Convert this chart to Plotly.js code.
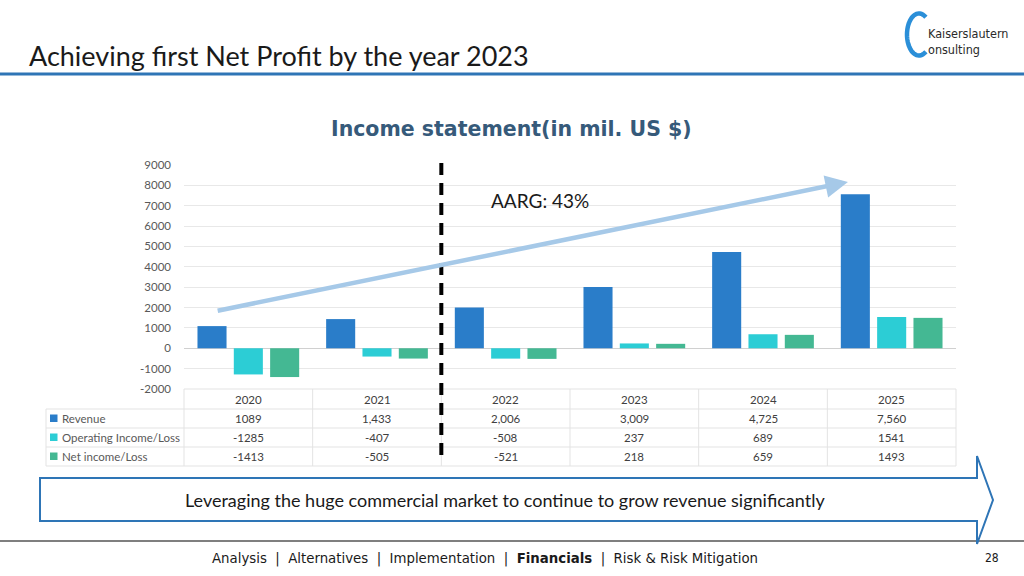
<!DOCTYPE html>
<html>
<head>
<meta charset="utf-8">
<script src="https://cdn.plot.ly/plotly-3.0.1.min.js"></script>
<style>html,body{margin:0;padding:0;background:#fff;}#chart{width:1024px;height:576px;}</style>
</head>
<body>
<div id="chart"></div>
<script>
// ---- data ----
const years = ['2020', '2021', '2022', '2023', '2024', '2025'];
const revenue = [1089, 1433, 2006, 3009, 4725, 7560];
const operatingIncome = [-1285, -407, -508, 237, 689, 1541];
const netIncome = [-1413, -505, -521, 218, 659, 1493];
const revenueLabels = ['1089', '1,433', '2,006', '3,009', '4,725', '7,560'];
const seriesNames = ['Revenue', 'Operating Income/Loss', 'Net income/Loss'];
const yTicks = [-2000, -1000, 0, 1000, 2000, 3000, 4000, 5000, 6000, 7000, 8000, 9000];

// ---- styling ----
const colors = ['#2a7dc9', '#2ccdd5', '#44b893'];
const W = 1024, H = 576;
const px = v => v / W;
const py = v => 1 - v / H;
const plotL = 184, plotR = 956, plotT = 165, plotB = 389;
const rowY = [389, 409, 428, 447, 466];
const txtColor = '#404040';
const bodyFont = 'Lato, "Open Sans", sans-serif';

const traces = [revenue, operatingIncome, netIncome].map((vals, i) => ({
  type: 'bar', x: years, y: vals, name: seriesNames[i],
  marker: {color: colors[i], line: {width: 0}},
  hoverinfo: 'x+y+name'
}));

const shapes = [];
const annotations = [];

// title underline
shapes.push({type: 'line', xref: 'paper', yref: 'paper', x0: 0, x1: 1, y0: py(74), y1: py(74), line: {color: '#2e75b6', width: 3}});
// bottom separator
shapes.push({type: 'line', xref: 'paper', yref: 'paper', x0: 0, x1: 1, y0: py(541), y1: py(541), line: {color: '#7f7f7f', width: 2}});

// table grid
const gridCol = '#e3e3e3';
shapes.push({type: 'line', xref: 'paper', yref: 'paper', x0: px(plotL), x1: px(plotR), y0: py(rowY[0]), y1: py(rowY[0]), line: {color: gridCol, width: 1}});
for (let r = 1; r < rowY.length; r++) {
  shapes.push({type: 'line', xref: 'paper', yref: 'paper', x0: px(46), x1: px(plotR), y0: py(rowY[r]), y1: py(rowY[r]), line: {color: gridCol, width: 1}});
}
const colW = (plotR - plotL) / years.length;
for (let c = 0; c <= years.length; c++) {
  const xx = plotL + c * colW;
  shapes.push({type: 'line', xref: 'paper', yref: 'paper', x0: px(xx), x1: px(xx), y0: py(rowY[0]), y1: py(rowY[4]), line: {color: gridCol, width: 1}});
}
shapes.push({type: 'line', xref: 'paper', yref: 'paper', x0: px(46), x1: px(46), y0: py(rowY[1]), y1: py(rowY[4]), line: {color: gridCol, width: 1}});

// table text (column i sits on category index i of the x axis)
const rowVals = [revenueLabels, operatingIncome.map(String), netIncome.map(String)];
years.forEach((yr, i) => {
  annotations.push({xref: 'x', yref: 'paper', x: i, y: py((rowY[0] + rowY[1]) / 2), text: yr, showarrow: false, font: {family: bodyFont, size: 11.5, color: txtColor}, xanchor: 'center', yanchor: 'middle'});
  rowVals.forEach((arr, r) => {
    annotations.push({xref: 'x', yref: 'paper', x: i, y: py((rowY[r + 1] + rowY[r + 2]) / 2), text: arr[i], showarrow: false, font: {family: bodyFont, size: 11.5, color: txtColor}, xanchor: 'center', yanchor: 'middle'});
  });
});
seriesNames.forEach((nm, r) => {
  const cy = (rowY[r + 1] + rowY[r + 2]) / 2;
  shapes.push({type: 'rect', xref: 'paper', yref: 'paper', x0: px(50), x1: px(57.5), y0: py(cy - 4), y1: py(cy + 3.5), fillcolor: colors[r], line: {width: 0}});
  annotations.push({xref: 'paper', yref: 'paper', x: px(60), y: py(cy), text: nm, showarrow: false, font: {family: bodyFont, size: 11.5, color: '#595959'}, xanchor: 'left', yanchor: 'middle'});
});

// dashed divider between 2021 and 2022
shapes.push({type: 'line', xref: 'paper', yref: 'paper', x0: px(plotL + 2 * colW), x1: px(plotL + 2 * colW), y0: py(163), y1: py(461), line: {color: '#000000', width: 4, dash: '12px,8px'}});

// bottom big arrow
const ax0 = 40, ax1 = 977, ayT = 478, ayB = 521, headT = 456, headB = 544, tipX = 993, tipY = 500;
const pathPts = [[ax0, ayT], [ax1, ayT], [ax1, headT], [tipX, tipY], [ax1, headB], [ax1, ayB], [ax0, ayB]];
shapes.push({type: 'path', xref: 'paper', yref: 'paper',
  path: 'M' + pathPts.map(p => px(p[0]) + ',' + py(p[1])).join(' L') + ' Z',
  fillcolor: '#ffffff', line: {color: '#2e75b6', width: 2}});
annotations.push({xref: 'paper', yref: 'paper', x: px(505), y: py(500), text: 'Leveraging the huge commercial market to continue to grow revenue significantly', showarrow: false, font: {family: bodyFont, size: 18, color: '#1a1a1a'}, xanchor: 'center', yanchor: 'middle'});

// growth arrow
annotations.push({xref: 'x', yref: 'y', axref: 'x', ayref: 'y', x: 4.66, y: 8170, ax: -0.25, ay: 1830, text: '', showarrow: true, arrowhead: 2, arrowsize: 1, arrowwidth: 4.5, arrowcolor: '#a6c9e8'});
annotations.push({xref: 'paper', yref: 'paper', x: px(489), y: py(201), text: 'AARG: 43%', showarrow: false, font: {family: bodyFont, size: 19, color: '#1a1a1a'}, xanchor: 'left', yanchor: 'middle'});

// headings
annotations.push({xref: 'paper', yref: 'paper', x: px(27), y: py(55), text: 'Achieving first Net Profit by the year 2023', showarrow: false, font: {family: bodyFont, size: 27, color: '#1a1a1a'}, xanchor: 'left', yanchor: 'middle'});
annotations.push({xref: 'paper', yref: 'paper', x: px(511), y: py(129), text: '<b>Income statement(in mil. US $)</b>', showarrow: false, font: {family: '"DejaVu Sans", Verdana, sans-serif', size: 20.5, color: '#365a7a'}, xanchor: 'center', yanchor: 'middle'});

// logo: thin "C" ring drawn as an open ellipse
const cPts = [];
for (let k = 0; k <= 48; k++) {
  const a = (55 + k * (250 / 48)) * Math.PI / 180;
  cPts.push([919 + 12 * Math.cos(a), 34.5 - 21 * Math.sin(a)]);
}
shapes.push({type: 'path', xref: 'paper', yref: 'paper',
  path: 'M' + cPts.map(p => px(p[0]) + ',' + py(p[1])).join(' L'),
  line: {color: '#2b8fd8', width: 4.5}});
annotations.push({xref: 'paper', yref: 'paper', x: px(926), y: py(41), text: 'Kaiserslautern<br>onsulting', align: 'left', showarrow: false, font: {family: '"DejaVu Sans Condensed", sans-serif', size: 12.5, color: '#2a2a2a'}, xanchor: 'left', yanchor: 'middle'});

// navigation footer
annotations.push({xref: 'paper', yref: 'paper', x: px(485), y: py(558), text: 'Analysis  |  Alternatives  |  Implementation  |  <b>Financials</b>  |  Risk &amp; Risk Mitigation', showarrow: false, font: {family: '"DejaVu Sans Condensed", Tahoma, sans-serif', size: 14.8, color: '#1a1a1a'}, xanchor: 'center', yanchor: 'middle'});
annotations.push({xref: 'paper', yref: 'paper', x: px(992), y: py(558), text: '28', showarrow: false, font: {family: '"DejaVu Sans Condensed", Tahoma, sans-serif', size: 12, color: '#1a1a1a'}, xanchor: 'center', yanchor: 'middle'});

const layout = {
  width: W, height: H,
  margin: {l: 0, r: 0, t: 0, b: 0},
  paper_bgcolor: '#ffffff', plot_bgcolor: '#ffffff',
  showlegend: false,
  barmode: 'group', bargap: 0.153, bargroupgap: 0.2,
  xaxis: {type: 'category', domain: [px(plotL), px(plotR)], range: [-0.5, 5.5], showticklabels: false, showgrid: false, zeroline: false, showline: false, ticks: ''},
  yaxis: {domain: [py(plotB), py(plotT)], range: [-2000, 9000], tickvals: yTicks, ticktext: yTicks.map(String),
    showgrid: true, gridcolor: '#e8e8e8', gridwidth: 1, zeroline: true, zerolinecolor: '#d0d0d0', zerolinewidth: 1,
    showline: false, ticks: '', ticklabelstandoff: 12,
    tickfont: {family: bodyFont, size: 11.5, color: '#595959'}},
  shapes: shapes,
  annotations: annotations,
  font: {family: bodyFont}
};

Plotly.newPlot('chart', traces, layout, {displayModeBar: false, staticPlot: true});
</script>
</body>
</html>
